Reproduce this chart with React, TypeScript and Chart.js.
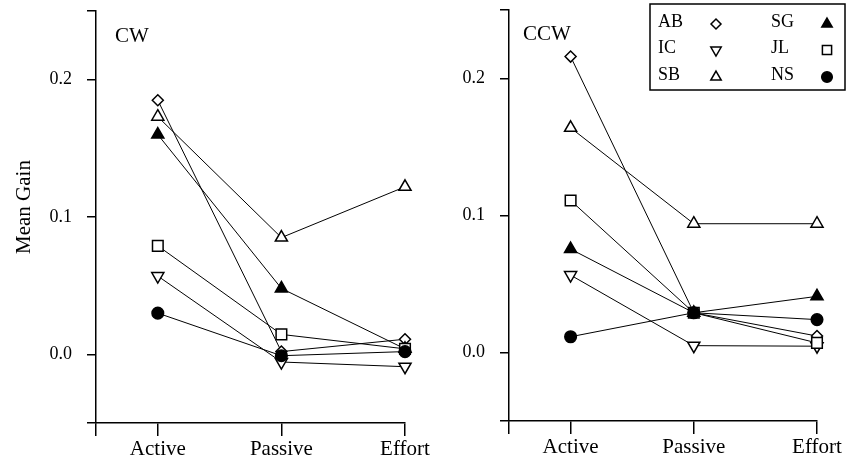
import React, { useEffect, useRef } from 'react';
import { Chart, registerables } from 'chart.js';
import { drawPoint } from 'chart.js/helpers';

Chart.register(...registerables);

// ---- data ----
const categories = ['Active', 'Passive', 'Effort'];
const subjects = ['AB', 'IC', 'SB', 'SG', 'JL', 'NS'];

const cwAB = [0.185, 0.002, 0.011];
const cwIC = [0.057, -0.0056, -0.009];
const cwSB = [0.173, 0.085, 0.122];
const cwSG = [0.16, 0.048, 0.004];
const cwJL = [0.079, 0.0145, 0.004];
const cwNS = [0.03, -0.001, 0.002];

const ccwAB = [0.216, 0.029, 0.012];
const ccwIC = [0.0565, 0.005, 0.0046];
const ccwSB = [0.164, 0.094, 0.094];
const ccwSG = [0.0755, 0.029, 0.041];
const ccwJL = [0.111, 0.029, 0.007];
const ccwNS = [0.0115, 0.029, 0.024];

const yTicks = [-0.05, 0, 0.1, 0.2, 0.25];
const yTickLabels = ['', '0.0', '0.1', '0.2', ''];
const xTicks = [-0.5, 0, 1, 2];

const cwSeries = [cwAB, cwIC, cwSB, cwSG, cwJL, cwNS];
const ccwSeries = [ccwAB, ccwIC, ccwSB, ccwSG, ccwJL, ccwNS];

// ---- styles ----
const FONT = "'Liberation Serif', 'Times New Roman', serif";
const markers = [
  { pointStyle: 'rectRot', radius: 5.5, fill: '#fff', rotation: 0, lr: 5 },
  { pointStyle: 'triangle', radius: 7, fill: '#fff', rotation: 180, lr: 6 },
  { pointStyle: 'triangle', radius: 7, fill: '#fff', rotation: 0, lr: 6 },
  { pointStyle: 'triangle', radius: 7, fill: '#000', rotation: 0, lr: 6 },
  { pointStyle: 'rect', radius: 7.5, fill: '#fff', rotation: 0, lr: 6.5 },
  { pointStyle: 'circle', radius: 5.8, fill: '#000', rotation: 0, lr: 5.3 },
];

function makeDatasets(series: number[][]) {
  return series.map((vals, i) => ({
    label: subjects[i],
    data: vals.map((v, j) => ({ x: j, y: v })),
    order: series.length - 1 - i,
    borderColor: '#000',
    borderWidth: 1,
    pointStyle: markers[i].pointStyle as any,
    pointRadius: markers[i].radius,
    pointRotation: markers[i].rotation,
    pointBackgroundColor: markers[i].fill,
    pointBorderColor: '#000',
    pointBorderWidth: 1.5,
    clip: false as any,
    tension: 0,
  }));
}

function textPlugin(opts: any) {
  return {
    id: 'texts_' + opts.id,
    afterDraw(chart: any) {
      const ctx = chart.ctx;
      ctx.save();
      ctx.fillStyle = '#000';
      ctx.font = `21px ${FONT}`;
      ctx.textAlign = 'left';
      ctx.textBaseline = 'alphabetic';
      ctx.fillText(opts.title, opts.titleX, opts.titleY);
      if (opts.yTitle) {
        ctx.save();
        ctx.translate(opts.yTitleX, opts.yTitleY);
        ctx.rotate(-Math.PI / 2);
        ctx.textAlign = 'center';
        ctx.textBaseline = 'middle';
        ctx.fillText(opts.yTitle, 0, 0);
        ctx.restore();
      }
      if (opts.legend) {
        const L = opts.legend;
        ctx.strokeStyle = '#000';
        ctx.lineWidth = 1.5;
        ctx.strokeRect(L.x, L.y, L.w, L.h);
        ctx.font = `18px ${FONT}`;
        chart.data.datasets.forEach((ds: any, i: number) => {
          const col = i < 3 ? 0 : 1;
          const row = i % 3;
          const tx = L.textX[col];
          const mx = L.markX[col];
          ctx.fillStyle = '#000';
          ctx.fillText(ds.label, tx, L.baseY[row]);
          ctx.fillStyle = markers[i].fill;
          ctx.strokeStyle = '#000';
          ctx.lineWidth = 1.5;
          drawPoint(ctx, {
            pointStyle: markers[i].pointStyle,
            radius: markers[i].lr,
            rotation: markers[i].rotation,
            borderWidth: 1.5,
          } as any, mx, L.markY[row]);
        });
      }
      ctx.restore();
    },
  };
}

function buildConfig(series: number[][], p: any) {
  return {
    type: 'line' as const,
    data: { datasets: makeDatasets(series) },
    options: {
      animation: false as const,
      responsive: false,
      devicePixelRatio: 1,
      layout: { padding: { left: 0, top: p.top, right: p.right, bottom: 0 } },
      plugins: { legend: { display: false }, tooltip: { enabled: false } },
      scales: {
        x: {
          type: 'linear' as const,
          min: -0.5,
          max: 2,
          afterBuildTicks: (s: any) => {
            s.ticks = xTicks.map((v) => ({ value: v }));
          },
          afterFit: (s: any) => {
            s.height = p.xh;
            s.paddingLeft = 0;
            s.paddingRight = 0;
          },
          ticks: {
            autoSkip: false,
            maxRotation: 0,
            minRotation: 0,
            padding: 1,
            color: '#000',
            font: { family: FONT, size: 21 },
            callback: (v: any) => {
              const i = xTicks.indexOf(v);
              return i > 0 ? categories[i - 1] : '';
            },
          },
          grid: {
            drawOnChartArea: false,
            drawTicks: true,
            tickLength: 13,
            color: '#000',
            lineWidth: 1.5,
          },
          border: { display: true, color: '#000', width: 1.5 },
        },
        y: {
          type: 'linear' as const,
          min: -0.05,
          max: 0.25,
          afterBuildTicks: (s: any) => {
            s.ticks = yTicks.map((v) => ({ value: v }));
          },
          afterFit: (s: any) => {
            s.width = p.yw;
            s.paddingTop = 0;
            s.paddingBottom = 0;
          },
          ticks: {
            autoSkip: false,
            padding: 15,
            color: '#000',
            font: { family: FONT, size: 18 },
            callback: (v: any) => {
              const i = yTicks.indexOf(v);
              return i >= 0 ? yTickLabels[i] : '';
            },
          },
          grid: {
            drawOnChartArea: false,
            drawTicks: true,
            tickLength: 9,
            color: '#000',
            lineWidth: 1.5,
          },
          border: { display: true, color: '#000', width: 1.5 },
        },
      },
    },
    plugins: [textPlugin(p.text)],
  };
}

export default function App() {
  const leftRef = useRef<HTMLCanvasElement>(null);
  const rightRef = useRef<HTMLCanvasElement>(null);

  useEffect(() => {
    document.body.style.margin = '0';
    const left = new Chart(
      leftRef.current as HTMLCanvasElement,
      buildConfig(cwSeries, {
        top: 11,
        right: 45,
        xh: 37,
        yw: 96,
        text: {
          id: 'cw',
          title: 'CW',
          titleX: 115,
          titleY: 42,
          yTitle: 'Mean Gain',
          yTitleX: 24,
          yTitleY: 207,
        },
      }) as any
    );
    const right = new Chart(
      rightRef.current as HTMLCanvasElement,
      buildConfig(ccwSeries, {
        top: 10,
        right: 42,
        xh: 39,
        yw: 59,
        text: {
          id: 'ccw',
          title: 'CCW',
          titleX: 73,
          titleY: 40,
          legend: {
            x: 200,
            y: 4,
            w: 195,
            h: 86,
            textX: [208, 321],
            markX: [266, 377],
            baseY: [27, 53, 80],
            markY: [24, 50, 77],
          },
        },
      }) as any
    );
    return () => {
      left.destroy();
      right.destroy();
    };
  }, []);

  return (
    <div style={{ position: 'relative', width: 859, height: 460, background: '#fff' }}>
      <canvas ref={leftRef} width={450} height={460} style={{ position: 'absolute', left: 0, top: 0 }} />
      <canvas ref={rightRef} width={409} height={460} style={{ position: 'absolute', left: 450, top: 0 }} />
    </div>
  );
}
